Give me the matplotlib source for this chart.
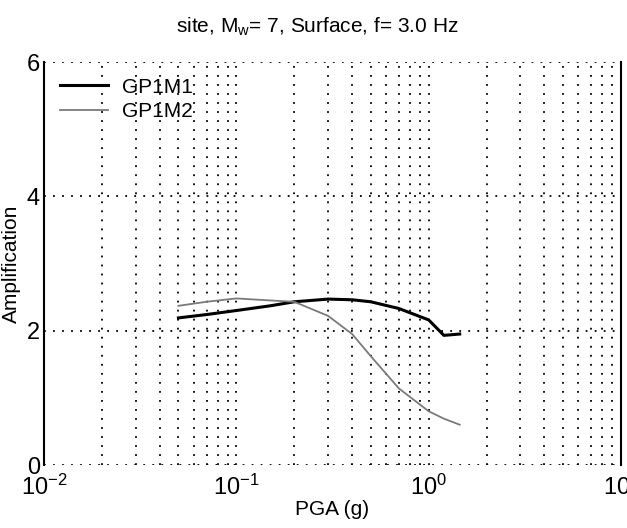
import numpy as np
import matplotlib.pyplot as plt

plt.rcParams['font.family'] = ['Liberation Sans', 'DejaVu Sans']

# PGA values (g) and amplification for each model
pga = [0.05, 0.07, 0.1, 0.15, 0.2, 0.3, 0.4, 0.5, 0.7, 1.0, 1.2, 1.45]
amp_gp1m1 = [2.19, 2.24, 2.30, 2.37, 2.43, 2.47, 2.46, 2.43, 2.33, 2.16, 1.93, 1.95]
amp_gp1m2 = [2.37, 2.43, 2.48, 2.45, 2.43, 2.22, 1.95, 1.62, 1.14, 0.80, 0.69, 0.60]

fig = plt.figure(figsize=(6.27, 5.28), dpi=100)
ax = fig.add_axes([44/627, 1 - 465/528, (621-44)/627, (465-62)/528])

ax.plot(pga, amp_gp1m1, color='black', lw=2.2, label='GP1M1')
ax.plot(pga, amp_gp1m2, color='#7a7a7a', lw=1.3, label='GP1M2')

ax.set_xscale('log')
ax.set_xlim(1e-2, 1e1)
ax.set_ylim(0, 6)
ax.set_yticks([0, 2, 4, 6])

# dotted grid, major and minor on x
ax.grid(True, which='major', color='black', linestyle=(0, (1, 4)), lw=1.3)
ax.grid(True, which='minor', axis='x', color='black', linestyle=(0, (1, 4)), lw=1.3)

for s in ['top', 'bottom']:
    ax.spines[s].set_visible(False)
for s in ['left', 'right']:
    ax.spines[s].set_linewidth(1.5)

ax.tick_params(which='both', length=0, labelsize=17, pad=3)
ax.tick_params(axis='x', pad=7)
ax.set_xlabel('PGA (g)', fontsize=15, labelpad=0)
ax.set_ylabel('Amplification', fontsize=15, labelpad=4)
fig.text(317/627, 1 - 27/528, 'site, M$_\\mathregular{w}$= 7, Surface, f= 3.0 Hz',
         fontsize=15, ha='center', va='center')

ax.legend(loc='upper left', frameon=False, fontsize=15, handlelength=2.3,
          borderaxespad=0.35, labelspacing=0.25, handletextpad=0.7)

fig.savefig('out.png', dpi=100)
